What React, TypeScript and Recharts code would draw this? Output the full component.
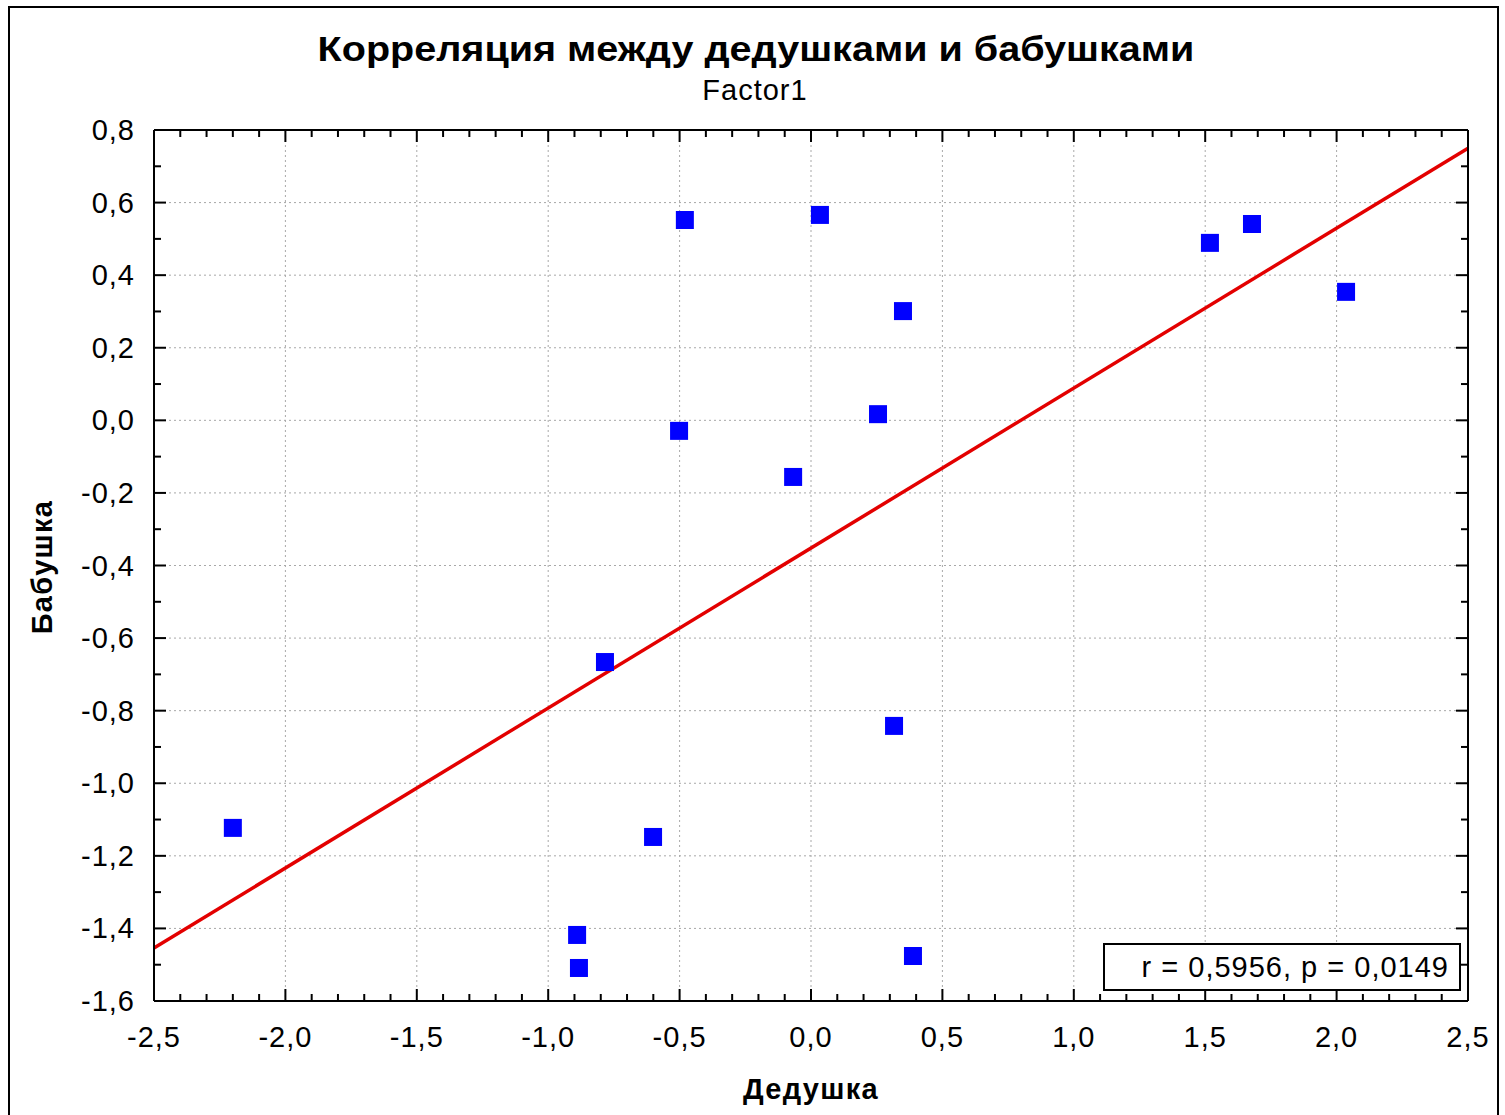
import React from 'react';
import { ScatterChart, Scatter, XAxis, YAxis, CartesianGrid, ReferenceLine } from 'recharts';

// Дедушка (x) / Бабушка (y) values
const grandpa = [-2.2, -0.48, 0.034, 0.35, 0.255, -0.502, -0.068, -0.784, 0.316, -0.601, -0.89, -0.883, 0.388, 1.518, 1.678, 2.036];
const grandma = [-1.123, 0.552, 0.566, 0.301, 0.017, -0.029, -0.156, -0.666, -0.842, -1.148, -1.418, -1.509, -1.476, 0.489, 0.541, 0.354];

// fitted regression line end points
const fitX = [-2.5, 2.5];
const fitY = [-1.454, 0.75];

const xMajor = [-2.5, -2, -1.5, -1, -0.5, 0, 0.5, 1, 1.5, 2, 2.5];
const yMajor = [-1.6, -1.4, -1.2, -1, -0.8, -0.6, -0.4, -0.2, 0, 0.2, 0.4, 0.6, 0.8];
const xMinor = Array.from({ length: 51 }, (_, i) => Math.round((-2.5 + i * 0.1) * 10) / 10);
const yMinor = Array.from({ length: 25 }, (_, i) => Math.round((-1.6 + i * 0.1) * 10) / 10);

const points = grandpa.map((x, i) => ({ x, y: grandma[i] }));

const W = 1505;
const H = 1115;
const FONT = '"Liberation Sans", Arial, sans-serif';

const fmt = (v: number, digits: number) => v.toFixed(digits).replace('.', ',');

const isMajor = (v: number, list: number[]) => list.some((m) => Math.abs(m - v) < 1e-6);

// inward ticks, labels only on major values
const BottomTick = (props: any) => {
  const { x, y, payload } = props;
  const major = isMajor(payload.value, xMajor);
  return (
    <g>
      <line x1={x} x2={x} y1={y} y2={y - (major ? 12 : 7)} stroke="#000" strokeWidth={2} />
      {major && (
        <text x={x} y={y + 46} textAnchor="middle" fontFamily={FONT} fontSize={29} letterSpacing={1} fill="#000">
          {fmt(payload.value, 1)}
        </text>
      )}
    </g>
  );
};

const TopTick = (props: any) => {
  const { x, y, payload } = props;
  const major = isMajor(payload.value, xMajor);
  return <line x1={x} x2={x} y1={y} y2={y + (major ? 12 : 7)} stroke="#000" strokeWidth={2} />;
};

const LeftTick = (props: any) => {
  const { x, y, payload } = props;
  const major = isMajor(payload.value, yMajor);
  return (
    <g>
      <line x1={x} x2={x + (major ? 12 : 7)} y1={y} y2={y} stroke="#000" strokeWidth={2} />
      {major && (
        <text x={x - 19} y={y + 10} textAnchor="end" fontFamily={FONT} fontSize={29} letterSpacing={1} fill="#000">
          {fmt(payload.value, 1)}
        </text>
      )}
    </g>
  );
};

const RightTick = (props: any) => {
  const { x, y, payload } = props;
  const major = isMajor(payload.value, yMajor);
  return <line x1={x} x2={x - (major ? 12 : 7)} y1={y} y2={y} stroke="#000" strokeWidth={2} />;
};

const SquareDot = (props: any) => {
  const { cx, cy } = props;
  return <rect x={cx - 9} y={cy - 9} width={18} height={18} fill="#0000ff" />;
};

export default function App() {
  return (
    <div style={{ position: 'absolute', left: 0, top: 0, width: W, height: H, background: '#fff', overflow: 'hidden' }}>
      <div
        style={{
          position: 'absolute',
          left: 8,
          top: 6,
          width: 1487,
          height: H,
          borderTop: '2px solid #000',
          borderLeft: '2px solid #000',
          borderRight: '2px solid #000',
        }}
      />
      <div
        style={{
          position: 'absolute',
          left: 0,
          width: 1512,
          top: 28,
          textAlign: 'center',
          fontFamily: FONT,
          fontWeight: 'bold',
          fontSize: 35,
          lineHeight: '42px',
          transform: 'scaleX(1.13)',
          transformOrigin: '756px 0',
        }}
      >
        Корреляция между дедушками и бабушками
      </div>
      <div
        style={{
          position: 'absolute',
          left: 0,
          width: 1510,
          top: 73,
          textAlign: 'center',
          fontFamily: FONT,
          fontSize: 29,
          lineHeight: '34px',
          letterSpacing: 1,
        }}
      >
        Factor1
      </div>
      <ScatterChart
        width={W}
        height={H}
        margin={{ top: 129, right: 36, bottom: 113, left: 153 }}
        style={{ position: 'absolute', left: 0, top: 0 }}
      >
        <CartesianGrid
          xAxisId="bottom"
          yAxisId="left"
          horizontalValues={yMajor}
          verticalValues={xMajor}
          stroke="#a8a8a8"
          strokeDasharray="2 3"
          strokeWidth={1}
        />
        <XAxis
          xAxisId="bottom"
          type="number"
          dataKey="x"
          domain={[-2.5, 2.5]}
          ticks={xMinor}
          interval={0}
          height={1}
          tickSize={0}
          tickMargin={0}
          tickLine={false}
          axisLine={{ stroke: '#000', strokeWidth: 2 }}
          tick={<BottomTick />}
          allowDataOverflow
        />
        <XAxis
          xAxisId="top"
          orientation="top"
          type="number"
          dataKey="x"
          domain={[-2.5, 2.5]}
          ticks={xMinor}
          interval={0}
          height={1}
          tickSize={0}
          tickMargin={0}
          tickLine={false}
          axisLine={{ stroke: '#000', strokeWidth: 2 }}
          tick={<TopTick />}
          allowDataOverflow
        />
        <YAxis
          yAxisId="left"
          type="number"
          dataKey="y"
          domain={[-1.6, 0.8]}
          ticks={yMinor}
          interval={0}
          width={1}
          tickSize={0}
          tickMargin={0}
          tickLine={false}
          axisLine={{ stroke: '#000', strokeWidth: 2 }}
          tick={<LeftTick />}
          allowDataOverflow
        />
        <YAxis
          yAxisId="right"
          orientation="right"
          type="number"
          dataKey="y"
          domain={[-1.6, 0.8]}
          ticks={yMinor}
          interval={0}
          width={1}
          tickSize={0}
          tickMargin={0}
          tickLine={false}
          axisLine={{ stroke: '#000', strokeWidth: 2 }}
          tick={<RightTick />}
          allowDataOverflow
        />
        <ReferenceLine
          xAxisId="bottom"
          yAxisId="left"
          segment={[
            { x: fitX[0], y: fitY[0] },
            { x: fitX[1], y: fitY[1] },
          ]}
          stroke="#e30000"
          strokeWidth={3.5}
        />
        <Scatter
          xAxisId="bottom"
          yAxisId="left"
          data={points}
          shape={<SquareDot />}
          isAnimationActive={false}
        />
      </ScatterChart>
      <div
        style={{
          position: 'absolute',
          left: 1103,
          top: 943,
          width: 354,
          height: 44,
          border: '2px solid #000',
          background: '#fff',
          boxSizing: 'content-box',
          fontFamily: FONT,
          fontSize: 29,
          lineHeight: '44px',
          textAlign: 'right',
          letterSpacing: 1,
        }}
      >
        <span style={{ marginRight: 10 }}>r = 0,5956, p = 0,0149</span>
      </div>
      <div
        style={{
          position: 'absolute',
          left: 0,
          width: 1622,
          top: 1071,
          textAlign: 'center',
          fontFamily: FONT,
          fontWeight: 'bold',
          fontSize: 29,
          lineHeight: '36px',
          letterSpacing: 1.3,
        }}
      >
        Дедушка
      </div>
      <div
        style={{
          position: 'absolute',
          left: 42,
          top: 567,
          transform: 'translate(-50%, -50%) rotate(-90deg)',
          fontFamily: FONT,
          fontWeight: 'bold',
          fontSize: 29,
          lineHeight: '36px',
          whiteSpace: 'nowrap',
          letterSpacing: 1.3,
        }}
      >
        Бабушка
      </div>
    </div>
  );
}
